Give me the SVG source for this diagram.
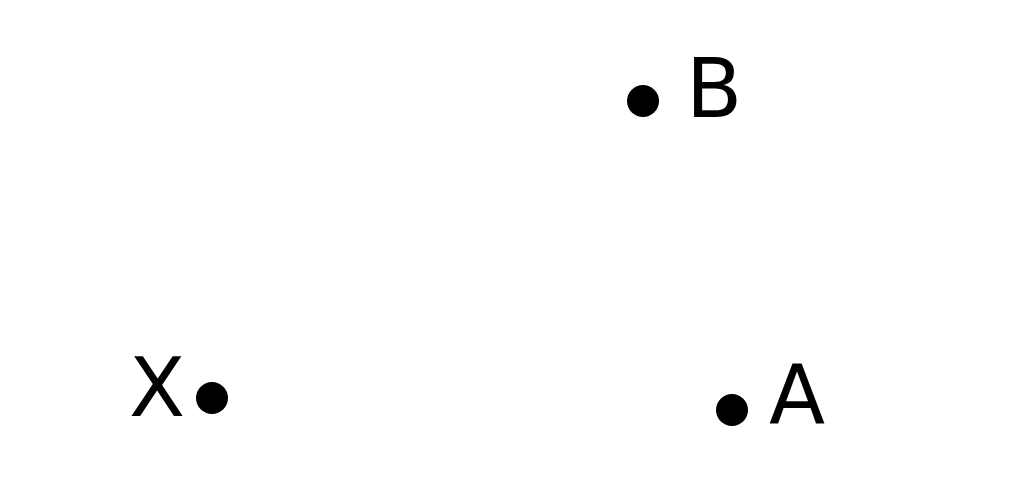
<svg xmlns="http://www.w3.org/2000/svg" width="1024" height="486" viewBox="0 0 1024 486">
<style>
.pt{fill:#000}
.lbl{font-family:"DejaVu Sans",sans-serif;font-size:82px;fill:#000}
</style>
<rect width="1024" height="486" fill="#fff"/>
<g id="connectors"></g>
<g id="B"><circle class="pt" cx="643" cy="101" r="16"/><text class="lbl" x="686" y="117">B</text></g>
<g id="X"><circle class="pt" cx="212" cy="398" r="16"/><text class="lbl" x="129" y="416">X</text></g>
<g id="A"><circle class="pt" cx="732" cy="410" r="16"/><text class="lbl" x="769" y="423">A</text></g>
</svg>
